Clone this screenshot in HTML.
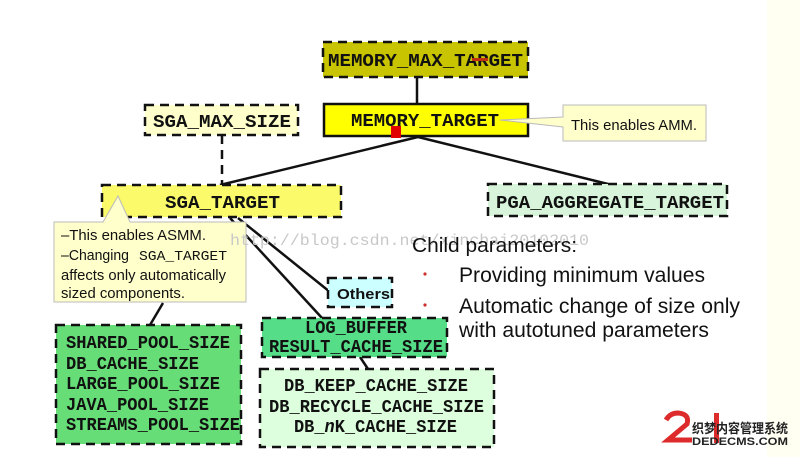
<!DOCTYPE html>
<html><head><meta charset="utf-8"><style>
html,body{margin:0;padding:0;background:#fff}
body{width:800px;height:457px;overflow:hidden;position:relative}
svg{position:absolute;left:0;top:0}
.m{font-family:"Liberation Mono",monospace;font-weight:bold;font-size:18px;fill:#111}
.s{font-family:"Liberation Sans",sans-serif;fill:#111}
</style></head><body>
<svg width="800" height="457" viewBox="0 0 800 457">
<rect x="767" y="0" width="33" height="457" fill="#fffff2"/>
<g stroke="#111" stroke-width="2.5" fill="none">
<line x1="417" y1="77" x2="417" y2="104"/>
<line x1="418" y1="137" x2="220" y2="185"/>
<line x1="418" y1="137" x2="608" y2="184"/>
<line x1="238" y1="218" x2="330" y2="292"/>
<line x1="230" y1="218" x2="322" y2="318"/>
<line x1="163" y1="303" x2="150" y2="325"/>
<line x1="360" y1="357" x2="368" y2="369"/>
</g>
<line x1="222" y1="135" x2="222" y2="185" stroke="#111" stroke-width="2.5" stroke-dasharray="9,6"/>
<g stroke="#111" stroke-width="2.5" stroke-dasharray="9,6">
<rect x="323" y="42" width="205" height="35" fill="#c9c400"/>
<rect x="145" y="105" width="153" height="30" fill="#ffffcc"/>
<rect x="102" y="185" width="239" height="32" fill="#fafa6a"/>
<rect x="488" y="184" width="239" height="32" fill="#d8f5dc"/>
<rect x="328" y="278" width="64" height="29" fill="#ccffff"/>
<rect x="262" y="318" width="185" height="39" fill="#55dd88"/>
<rect x="56" y="325" width="185" height="119" fill="#66dd77"/>
<rect x="260" y="369" width="234" height="78" fill="#ddffdd"/>
</g>
<rect x="324" y="104" width="204" height="32" fill="#ffff00" stroke="#111" stroke-width="2.5"/>
<rect x="391" y="126" width="10" height="12" fill="#e00000"/>
<path d="M563,105 H706 V141 H563 V127 L500,120 L563,117 Z" fill="#ffffcc" stroke="#bbb" stroke-width="1"/>
<text x="571" y="130" class="s" font-size="15" textLength="126" lengthAdjust="spacingAndGlyphs">This enables AMM.</text>
<path d="M54,222 H103 L118,196 L130,222 H246 V302 H54 Z" fill="#ffffcc" stroke="#bbb" stroke-width="1"/>
<text class="s" font-size="15">
<tspan x="61" y="240" textLength="145" lengthAdjust="spacingAndGlyphs">–This enables ASMM.</tspan>
<tspan x="61" y="260" textLength="68" lengthAdjust="spacingAndGlyphs">–Changing</tspan>
<tspan x="61" y="280" textLength="165" lengthAdjust="spacingAndGlyphs">affects only automatically</tspan>
<tspan x="61" y="298" textLength="124" lengthAdjust="spacingAndGlyphs">sized components.</tspan></text>
<text x="139" y="260" font-family="Liberation Mono,monospace" font-size="14" fill="#111" textLength="88" lengthAdjust="spacingAndGlyphs">SGA_TARGET</text>
<text x="328" y="66" class="m" textLength="195" lengthAdjust="spacingAndGlyphs">MEMORY_MAX_TARGET</text>
<rect x="472" y="58" width="16" height="3" fill="#c03010"/>
<text x="351" y="126" class="m" textLength="148" lengthAdjust="spacingAndGlyphs">MEMORY_TARGET</text>
<text x="153" y="127" class="m" textLength="138" lengthAdjust="spacingAndGlyphs">SGA_MAX_SIZE</text>
<text x="165" y="208" class="m" textLength="115" lengthAdjust="spacingAndGlyphs">SGA_TARGET</text>
<text x="496" y="208" class="m" textLength="228" lengthAdjust="spacingAndGlyphs">PGA_AGGREGATE_TARGET</text>
<text x="337" y="299" class="s" font-size="15" font-weight="bold" textLength="53" lengthAdjust="spacingAndGlyphs">Others</text>
<text class="m">
<tspan x="305" y="333" textLength="102" lengthAdjust="spacingAndGlyphs">LOG_BUFFER</tspan>
<tspan x="269" y="352" textLength="174" lengthAdjust="spacingAndGlyphs">RESULT_CACHE_SIZE</tspan></text>
<text class="m">
<tspan x="66" y="348" textLength="164" lengthAdjust="spacingAndGlyphs">SHARED_POOL_SIZE</tspan>
<tspan x="66" y="369" textLength="133" lengthAdjust="spacingAndGlyphs">DB_CACHE_SIZE</tspan>
<tspan x="66" y="389" textLength="154" lengthAdjust="spacingAndGlyphs">LARGE_POOL_SIZE</tspan>
<tspan x="66" y="410" textLength="143" lengthAdjust="spacingAndGlyphs">JAVA_POOL_SIZE</tspan>
<tspan x="66" y="430" textLength="174" lengthAdjust="spacingAndGlyphs">STREAMS_POOL_SIZE</tspan></text>
<text class="m">
<tspan x="284" y="391" textLength="184" lengthAdjust="spacingAndGlyphs">DB_KEEP_CACHE_SIZE</tspan>
<tspan x="269" y="412" textLength="215" lengthAdjust="spacingAndGlyphs">DB_RECYCLE_CACHE_SIZE</tspan></text>
<text x="294" y="432" class="m" textLength="163" lengthAdjust="spacingAndGlyphs">DB_<tspan font-style="italic">n</tspan>K_CACHE_SIZE</text>
<text x="230" y="245" font-family="Liberation Mono,monospace" font-size="16" fill="#c8c8c8" textLength="359" lengthAdjust="spacingAndGlyphs">http://blog.csdn.net/xinchai20102010</text>
<text x="412" y="252" class="s" font-size="20" textLength="165" lengthAdjust="spacingAndGlyphs">Child parameters:</text>
<circle cx="425" cy="274" r="1.6" fill="#d03030"/>
<circle cx="425" cy="305" r="1.6" fill="#d03030"/>
<text class="s" font-size="21">
<tspan x="459" y="282" textLength="246" lengthAdjust="spacingAndGlyphs">Providing minimum values</tspan>
<tspan x="459" y="313" textLength="281" lengthAdjust="spacingAndGlyphs">Automatic change of size only</tspan>
<tspan x="459" y="337" textLength="250" lengthAdjust="spacingAndGlyphs">with autotuned parameters</tspan></text>
<path d="M666,420 Q670,413 678,413 Q690,414 687,424 L668,440 H692" fill="none" stroke="#dd2a2a" stroke-width="5"/>
<rect x="714" y="413" width="5" height="30" fill="#dd2a2a"/>
<text x="692" y="433" font-family="Liberation Sans,Noto Sans CJK SC,sans-serif" font-size="13" font-weight="bold" fill="#222" textLength="96" lengthAdjust="spacingAndGlyphs">织梦内容管理系统</text>
<text x="692" y="445" font-family="Liberation Sans,sans-serif" font-size="11" font-weight="bold" fill="#222" textLength="96" lengthAdjust="spacingAndGlyphs">DEDECMS.COM</text>
</svg>
</body></html>
